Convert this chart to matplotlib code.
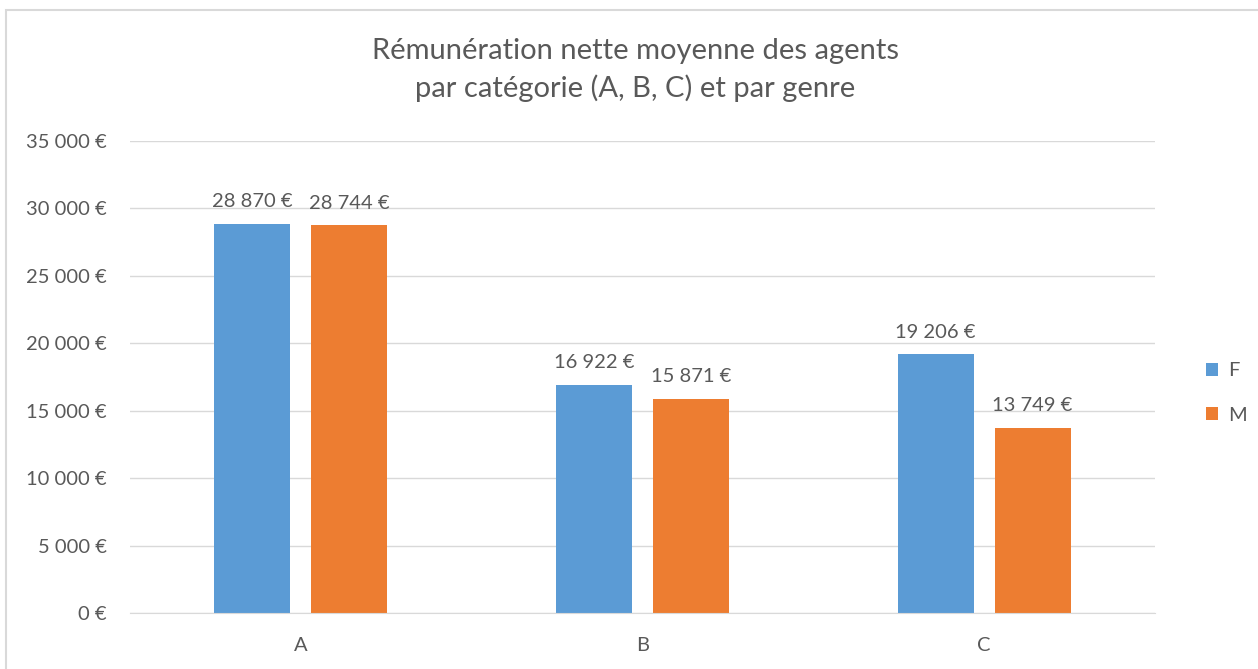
import matplotlib
matplotlib.use("Agg")
import matplotlib.pyplot as plt
import numpy as np
from matplotlib.patches import Rectangle

# -----------------------------------
# Data
# -----------------------------------
categories = ["A", "B", "C"]
femmes = [28870, 16922, 19206]
hommes = [28744, 15871, 13749]
series_names = ["F", "M"]
yticks = [0, 5000, 10000, 15000, 20000, 25000, 30000, 35000]

blue = "#5b9bd5"
orange = "#ed7d31"
grey = "#595959"

plt.rcParams["font.family"] = ["Lato", "DejaVu Sans"]


def euro(v):
    return f"{v:,.0f} €".replace(",", " ")


fig = plt.figure(figsize=(12.58, 6.69), dpi=100)

# outer chart border
fig.patches.append(Rectangle((6 / 1258, -0.1), 1.2, 1 - 10 / 669 + 0.1,
                             transform=fig.transFigure, fill=False,
                             edgecolor="#d9d9d9", linewidth=1.5))

ax = fig.add_axes([130 / 1258, 1 - 613 / 669, 1025 / 1258, (613 - 141) / 669])

x = np.arange(len(categories))
w = 0.223
off = 0.142
b1 = ax.bar(x - off, femmes, w, color=blue, label=series_names[0])
b2 = ax.bar(x + off, hommes, w, color=orange, label=series_names[1])

for bars, vals in ((b1, femmes), (b2, hommes)):
    for r, v in zip(bars, vals):
        ax.text(r.get_x() + r.get_width() / 2, v + 1000, euro(v),
                ha="center", va="bottom", fontsize=14.5, color=grey)

ax.set_xlim(-0.5, 2.5)
ax.set_ylim(0, 35000)
ax.set_yticks(yticks)
ax.set_yticklabels([euro(v) for v in yticks])
ax.set_xticks(x)
ax.set_xticklabels(categories)
ax.tick_params(axis="both", length=0, labelsize=14.5, labelcolor=grey)
ax.tick_params(axis="y", pad=16.5)
ax.tick_params(axis="x", pad=17)
ax.grid(axis="y", color="#d9d9d9", linewidth=1)
ax.set_axisbelow(True)
for s in ["top", "right", "left"]:
    ax.spines[s].set_visible(False)
ax.spines["bottom"].set_color("#d9d9d9")

fig.text(635 / 1258, 1 - 70 / 669,
         "Rémunération nette moyenne des agents\npar catégorie (A, B, C) et par genre",
         ha="center", va="center", fontsize=21, color=grey, linespacing=1.5)

fig.legend(handles=[b1, b2], loc="center left",
           bbox_to_anchor=(1188 / 1258, 1 - 393 / 669), frameon=False,
           fontsize=14.5, labelcolor=grey, handlelength=0.6, handleheight=0.6,
           handletextpad=0.5, labelspacing=1.35)

fig.savefig("out.png", dpi=100)
